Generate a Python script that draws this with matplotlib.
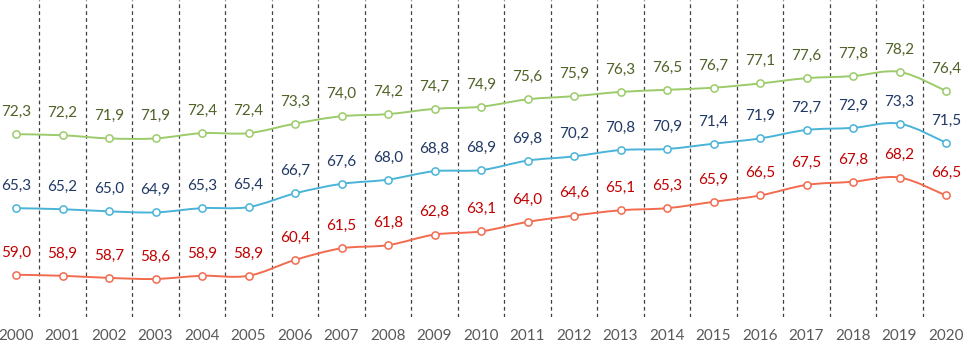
import matplotlib
matplotlib.use("Agg")
import matplotlib.pyplot as plt
from matplotlib.path import Path
from matplotlib.patches import PathPatch
import numpy as np

years = [str(y) for y in range(2000, 2021)]
series_top = [72.3, 72.2, 71.9, 71.9, 72.4, 72.4, 73.3, 74.0, 74.2, 74.7, 74.9,
              75.6, 75.9, 76.3, 76.5, 76.7, 77.1, 77.6, 77.8, 78.2, 76.4]
series_mid = [65.3, 65.2, 65.0, 64.9, 65.3, 65.4, 66.7, 67.6, 68.0, 68.8, 68.9,
              69.8, 70.2, 70.8, 70.9, 71.4, 71.9, 72.7, 72.9, 73.3, 71.5]
series_low = [59.0, 58.9, 58.7, 58.6, 58.9, 58.9, 60.4, 61.5, 61.8, 62.8, 63.1,
              64.0, 64.6, 65.1, 65.3, 65.9, 66.5, 67.5, 67.8, 68.2, 66.5]

styles = [
    (series_top, "#9BCB6A", "#4F6228"),
    (series_mid, "#4AB3D8", "#1F3864"),
    (series_low, "#F26B4F", "#C00000"),
]

plt.rcParams['font.family'] = ['Lato', 'DejaVu Sans']

fig = plt.figure(figsize=(9.63, 3.44), dpi=100)
ax = fig.add_axes([0, 27 / 344, 1, 317 / 344])
ax.set_xlim(-16 / 46.5, 20 + 17 / 46.5)
ax.set_ylim(55, 85)


def smooth_path(xs, ys, t=1 / 6):
    verts = [(xs[0], ys[0])]
    codes = [Path.MOVETO]
    n = len(xs)
    for i in range(n - 1):
        x0, y0 = (xs[i - 1], ys[i - 1]) if i > 0 else (xs[i], ys[i])
        x1, y1 = xs[i], ys[i]
        x2, y2 = xs[i + 1], ys[i + 1]
        x3, y3 = (xs[i + 2], ys[i + 2]) if i + 2 < n else (xs[i + 1], ys[i + 1])
        c1 = (x1 + (x2 - x0) * t, y1 + (y2 - y0) * t)
        c2 = (x2 - (x3 - x1) * t, y2 - (y3 - y1) * t)
        verts += [c1, c2, (x2, y2)]
        codes += [Path.CURVE4] * 3
    return Path(verts, codes)


xs = np.arange(len(years))
for vals, lc, tc in styles:
    p = smooth_path(list(xs), vals)
    ax.add_patch(PathPatch(p, facecolor='none', edgecolor=lc, lw=1.4, zorder=3))
    ax.plot(xs, vals, linestyle='none', marker='o', markersize=5.2,
            markerfacecolor='white', markeredgecolor=lc, markeredgewidth=1.1, zorder=4)
    for x, v in zip(xs, vals):
        ax.annotate(f"{v:.1f}".replace('.', ','), (x, v), xytext=(0, 16),
                    textcoords='offset points', ha='center', va='center',
                    fontsize=11, color=tc, zorder=5)

for b in np.arange(0.5, 20, 1):
    ax.axvline(b, color='#404040', lw=0.9, ls=(0, (3, 2.5)), zorder=1)

for s in ax.spines.values():
    s.set_visible(False)
ax.set_yticks([])
ax.set_xticks(xs)
ax.set_xticklabels(years, fontsize=11, color='#595959')
ax.tick_params(axis='x', length=0, pad=9)

fig.savefig("out.png", dpi=100)
